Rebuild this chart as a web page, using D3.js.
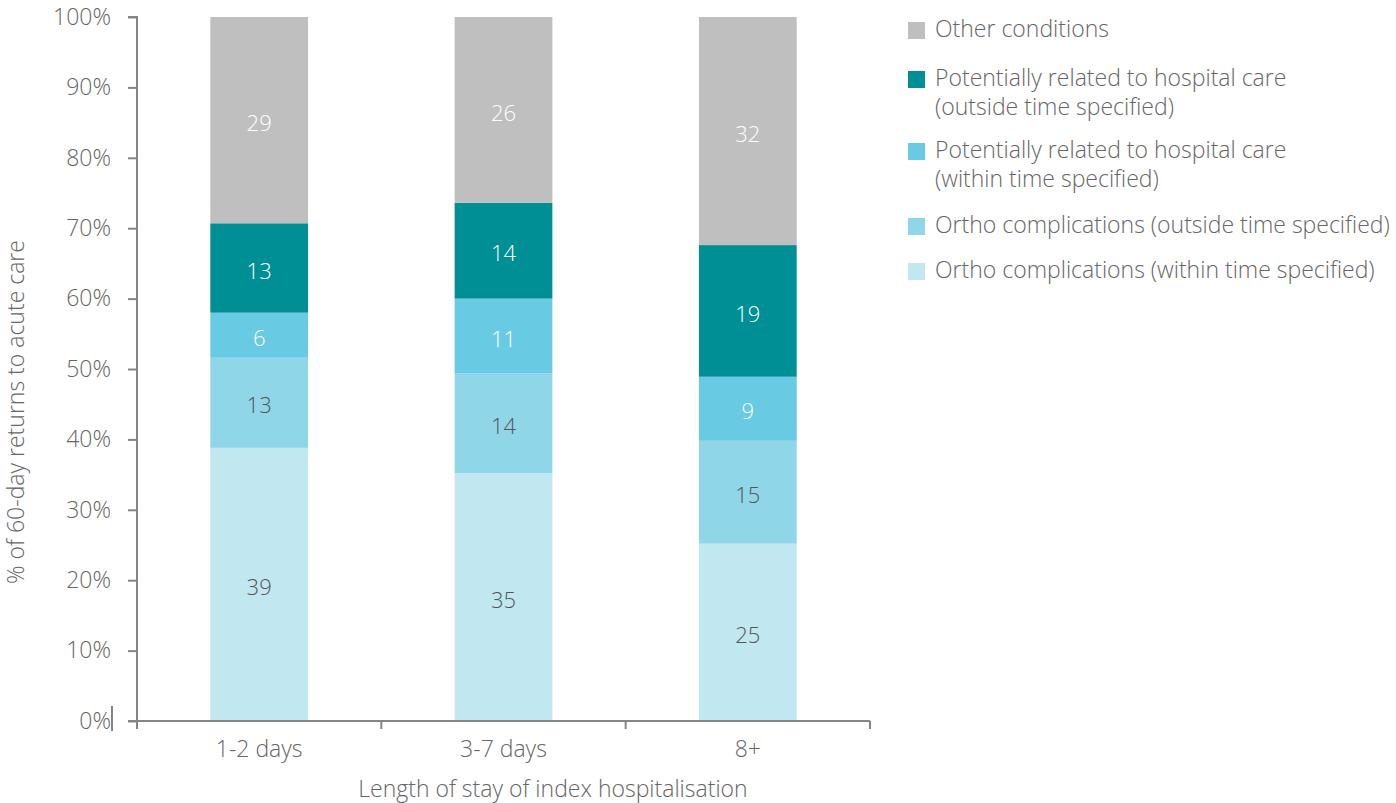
<!DOCTYPE html>
<html><head><meta charset="utf-8">
<script src="https://cdn.jsdelivr.net/npm/d3@7"></script>
<style>body{margin:0;background:#fff;}svg{display:block;font-family:"Open Sans",Roboto,sans-serif;font-weight:300;}</style>
</head><body>
<svg id="chart" width="1396" height="803"></svg>
<script>
const categories = ["1-2 days", "3-7 days", "8+"];
const seriesNames = [
  "Ortho complications (within time specified)",
  "Ortho complications (outside time specified)",
  "Potentially related to hospital care (within time specified)",
  "Potentially related to hospital care (outside time specified)",
  "Other conditions"
];
const orthoWithin = [38.8, 35.2, 25.2];
const orthoOutside = [12.8, 14.2, 14.6];
const hospWithin = [6.4, 10.6, 9.1];
const hospOutside = [12.7, 13.6, 18.7];
const otherConditions = [29.3, 26.4, 32.4];
const yTicks = [0,10,20,30,40,50,60,70,80,90,100];
const colors = ["#c1e7f0", "#8fd6e8", "#69cbe3", "#008f94", "#bfbfbf"];
const labelColors = ["#555", "#555", "#fff", "#fff", "#fff"];
const legendLines = [
  ["Other conditions"],
  ["Potentially related to hospital care", "(outside time specified)"],
  ["Potentially related to hospital care", "(within time specified)"],
  ["Ortho complications (outside time specified)"],
  ["Ortho complications (within time specified)"]
];
const legendColorIdx = [4,3,2,1,0];

const FS = "23px";
const svg = d3.select("#chart");
const x = d3.scaleBand().domain(categories).range([137, 870]).paddingInner(0.6).paddingOuter(0.3);
const y = d3.scaleLinear().domain([0, 100]).range([721, 17]);

const seriesVals = [orthoWithin, orthoOutside, hospWithin, hospOutside, otherConditions];
const rows = categories.map((c, i) => {
  const o = {cat: c};
  seriesNames.forEach((s, j) => o[s] = seriesVals[j][i]);
  return o;
});
const stack = d3.stack().keys(seriesNames)(rows);

const g = svg.append("g");
stack.forEach((layer, j) => {
  const lg = g.append("g").attr("fill", colors[j]);
  lg.selectAll("rect").data(layer).join("rect")
    .attr("x", d => x(d.data.cat)).attr("width", x.bandwidth())
    .attr("y", d => y(d[1])).attr("height", d => y(d[0]) - y(d[1]));
  g.append("g").selectAll("text").data(layer).join("text")
    .attr("x", d => x(d.data.cat) + x.bandwidth()/2)
    .attr("y", d => (y(d[0]) + y(d[1]))/2 + 3)
    .attr("dy", "0.35em").attr("text-anchor", "middle")
    .attr("fill", labelColors[j]).style("font-size", "22px")
    .text(d => Math.round(d.data[layer.key]));
});

// Y axis
const axisColor = "#858585";
const yAxis = svg.append("g").attr("transform", "translate(137,0)")
  .call(d3.axisLeft(y).tickValues(yTicks).tickFormat(d => d + "%").tickSize(9).tickPadding(17));
yAxis.select(".domain").attr("stroke", axisColor).attr("stroke-width", 2).attr("d", "M-9,17H0V721");
yAxis.selectAll(".tick line").attr("stroke", axisColor).attr("stroke-width", 2);
yAxis.selectAll(".tick text").attr("fill", "#666").style("font-size", FS).style("font-family", "'Open Sans', sans-serif").style("font-weight", 300);
svg.append("line").attr("x1", 112).attr("x2", 112).attr("y1", 706).attr("y2", 731).attr("stroke", "#333").attr("stroke-width", 1.2);

// X axis
const xg = svg.append("g");
xg.append("line").attr("x1", 128).attr("x2", 870).attr("y1", 721).attr("y2", 721).attr("stroke", axisColor).attr("stroke-width", 2);
const bounds = [137].concat(categories.map(c => x(c) + x.bandwidth() + x.step()*x.paddingInner()/2));
bounds[bounds.length-1] = 870;
xg.selectAll("line.tk").data(bounds).join("line").attr("class", "tk")
  .attr("x1", d => d).attr("x2", d => d).attr("y1", 721).attr("y2", 729)
  .attr("stroke", axisColor).attr("stroke-width", 2);
xg.selectAll("text").data(categories).join("text")
  .attr("x", d => x(d) + x.bandwidth()/2).attr("y", 757)
  .attr("text-anchor", "middle").attr("fill", "#666").style("font-size", FS).text(d => d);

svg.append("text").attr("x", 553).attr("y", 797).attr("text-anchor", "middle")
  .attr("fill", "#666").style("font-size", FS).text("Length of stay of index hospitalisation");
svg.append("text").attr("transform", "translate(24,412) rotate(-90)").attr("text-anchor", "middle")
  .attr("fill", "#666").style("font-size", FS).text("% of 60-day returns to acute care");

// Legend
const legTops = [22, 71, 143, 218, 263];
const leg = svg.append("g");
legendLines.forEach((lines, i) => {
  const top = legTops[i];
  leg.append("rect").attr("x", 908).attr("y", top).attr("width", 17).attr("height", 17).attr("fill", colors[legendColorIdx[i]]);
  lines.forEach((t, k) => {
    leg.append("text").attr("x", 935).attr("y", top + 7 + k*29).attr("dy", "0.35em")
      .attr("fill", "#666").style("font-size", FS).text(t);
  });
});
</script>
</body></html>
